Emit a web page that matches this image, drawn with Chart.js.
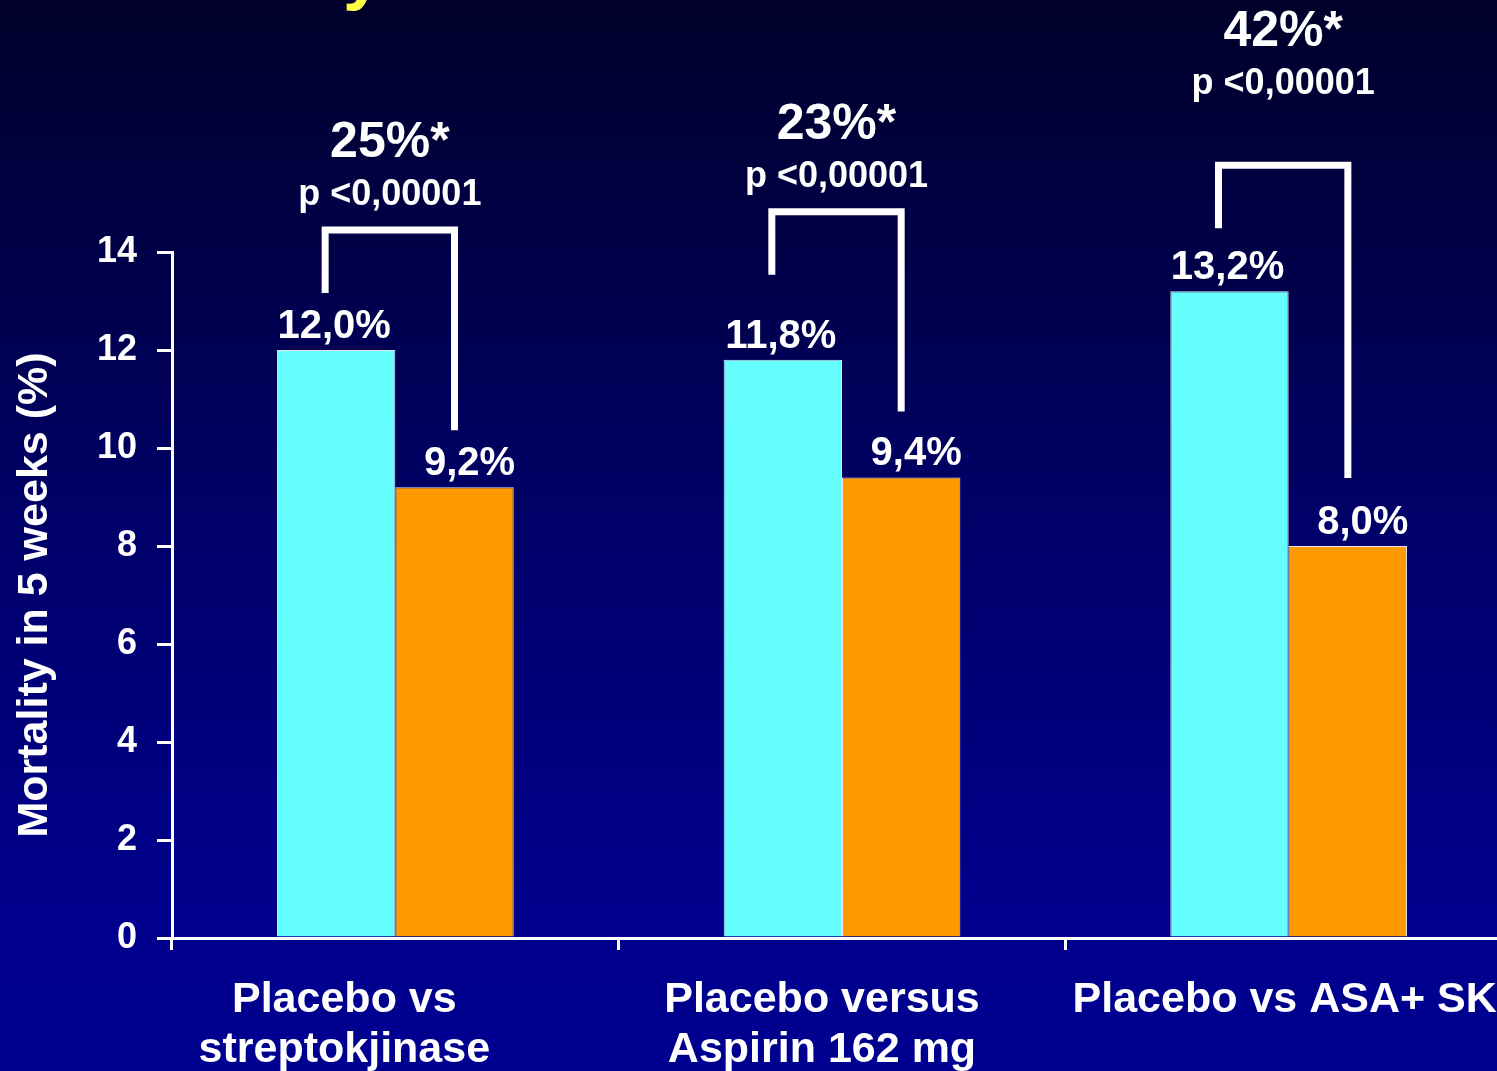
<!DOCTYPE html>
<html>
<head>
<meta charset="utf-8">
<script src="https://cdn.jsdelivr.net/npm/chart.js@4.4.0/dist/chart.umd.min.js"></script>
<style>
  html, body { margin: 0; padding: 0; overflow: hidden; background: #000040; }
  canvas { display: block; }
</style>
</head>
<body>
<canvas id="chart" width="1512" height="1071"></canvas>
<script>
// Mortality in 5 weeks: placebo vs active treatment, three comparisons
const categories = [
  ['Placebo vs', 'streptokjinase'],
  ['Placebo versus', 'Aspirin 162 mg'],
  ['Placebo vs ASA+ SK']
];
const placeboValues = [12.0, 11.8, 13.2];
const treatedValues = [9.2, 9.4, 8.0];
const placeboLabels = ['12,0%', '11,8%', '13,2%'];
const treatedLabels = ['9,2%', '9,4%', '8,0%'];
const reductionLabels = ['25%*', '23%*', '42%*'];
const pValueLabels = ['p <0,00001', 'p <0,00001', 'p <0,00001'];
const yTickValues = [0, 2, 4, 6, 8, 10, 12, 14];

const FONT = '"Liberation Sans", Arial, Helvetica, sans-serif';

// Navy slide background
const backgroundPlugin = {
  id: 'slideBackground',
  beforeDraw(chart) {
    const { ctx, width, height } = chart;
    const g = ctx.createLinearGradient(0, 0, 0, height);
    g.addColorStop(0, '#00002a');
    g.addColorStop(0.55, '#000070');
    g.addColorStop(0.85, '#00008c');
    g.addColorStop(1, '#000090');
    ctx.save();
    ctx.fillStyle = g;
    ctx.fillRect(0, 0, width, height);
    // descender of the slide heading, running off the top edge
    ctx.fillStyle = '#ffff44';
    ctx.font = 'bold 72px ' + FONT;
    ctx.textBaseline = 'alphabetic';
    ctx.textAlign = 'left';
    ctx.fillText('y', 343, -4);
    ctx.restore();
  }
};

// Category names under the x axis, each block nudged as on the slide
const categoryLabelPlugin = {
  id: 'categoryLabels',
  afterDraw(chart) {
    const { ctx } = chart;
    const xs = chart.scales.x;
    const shift = [-51, -20, -4];
    const lineHeight = 50;
    ctx.save();
    ctx.fillStyle = '#ffffff';
    ctx.font = 'bold 43px ' + FONT;
    ctx.textAlign = 'center';
    ctx.textBaseline = 'alphabetic';
    categories.forEach((lines, i) => {
      const cx = xs.getPixelForValue(i) + shift[i];
      lines.forEach((line, k) => {
        ctx.fillText(line, cx, xs.top + 74 + k * lineHeight);
      });
    });
    ctx.restore();
  }
};

// Value labels above bars, comparison brackets and reduction annotations
const annotationPlugin = {
  id: 'comparisonAnnotations',
  afterDatasetsDraw(chart) {
    const { ctx } = chart;
    const m0 = chart.getDatasetMeta(0);
    const m1 = chart.getDatasetMeta(1);
    // per-comparison lifts (px) for the bracket ends and text
    const leftLift = [57, 85, 63];
    const rightLift = [57, 66, 68];
    const textLift = [0, 0, 46];
    ctx.save();
    ctx.fillStyle = '#ffffff';
    ctx.textAlign = 'center';
    ctx.textBaseline = 'alphabetic';

    ctx.font = 'bold 40px ' + FONT;
    m0.data.forEach((bar, i) => {
      ctx.fillText(placeboLabels[i], bar.x - 2, bar.y - 12);
    });
    m1.data.forEach((bar, i) => {
      ctx.fillText(treatedLabels[i], bar.x + 15, bar.y - 12);
    });

    ctx.strokeStyle = '#ffffff';
    ctx.lineWidth = 7;
    ctx.lineJoin = 'miter';
    ctx.lineCap = 'butt';
    m0.data.forEach((bar, i) => {
      const other = m1.data[i];
      const lx = bar.x - 11;
      const rx = other.x;
      const leftEnd = bar.y - leftLift[i];
      const rightEnd = other.y - rightLift[i];
      const top = leftEnd - 63;
      ctx.beginPath();
      ctx.moveTo(lx, leftEnd);
      ctx.lineTo(lx, top);
      ctx.lineTo(rx, top);
      ctx.lineTo(rx, rightEnd);
      ctx.stroke();

      const cx = (lx + rx) / 2;
      ctx.font = 'bold 50px ' + FONT;
      ctx.fillText(reductionLabels[i], cx, top - 73 - textLift[i]);
      ctx.font = 'bold 36px ' + FONT;
      ctx.fillText(pValueLabels[i], cx, top - 25 - textLift[i]);
    });
    ctx.restore();
  }
};

new Chart(document.getElementById('chart'), {
  type: 'bar',
  data: {
    labels: categories,
    datasets: [
      {
        label: 'Placebo',
        data: placeboValues,
        backgroundColor: '#66ffff',
        borderColor: 'rgba(255,255,255,0.9)',
        borderWidth: 1,
        categoryPercentage: 0.53,
        barPercentage: 1.0
      },
      {
        label: 'Treatment',
        data: treatedValues,
        backgroundColor: '#ff9900',
        borderColor: 'rgba(255,255,255,0.9)',
        borderWidth: 1,
        categoryPercentage: 0.53,
        barPercentage: 1.0
      }
    ]
  },
  options: {
    responsive: false,
    devicePixelRatio: 1,
    animation: false,
    layout: { padding: { top: 252, left: 0, right: 0, bottom: 0 } },
    plugins: {
      legend: { display: false },
      tooltip: { enabled: false },
      title: { display: false }
    },
    scales: {
      x: {
        offset: true,
        grid: {
          offset: true,
          drawOnChartArea: false,
          drawTicks: true,
          tickLength: 12,
          color: '#ffffff',
          lineWidth: 3
        },
        border: { display: true, color: '#ffffff', width: 3 },
        ticks: { display: false },
        afterFit(scale) { scale.height = 133; }
      },
      y: {
        min: 0,
        max: 14,
        afterBuildTicks(scale) {
          scale.ticks = yTickValues.map(v => ({ value: v }));
        },
        grid: {
          drawOnChartArea: false,
          drawTicks: true,
          tickLength: 15,
          color: '#ffffff',
          lineWidth: 3
        },
        border: { display: true, color: '#ffffff', width: 3 },
        ticks: {
          color: '#ffffff',
          font: { family: FONT, size: 36, weight: 'bold' },
          padding: 20
        },
        title: {
          display: true,
          text: 'Mortality in 5 weeks (%)',
          color: '#ffffff',
          font: { family: FONT, size: 43, weight: 'bold', lineHeight: 1.1 },
          padding: { top: 11, bottom: 0 }
        },
        afterFit(scale) { scale.width = 172; }
      }
    }
  },
  plugins: [backgroundPlugin, annotationPlugin, categoryLabelPlugin]
});
</script>
</body>
</html>
